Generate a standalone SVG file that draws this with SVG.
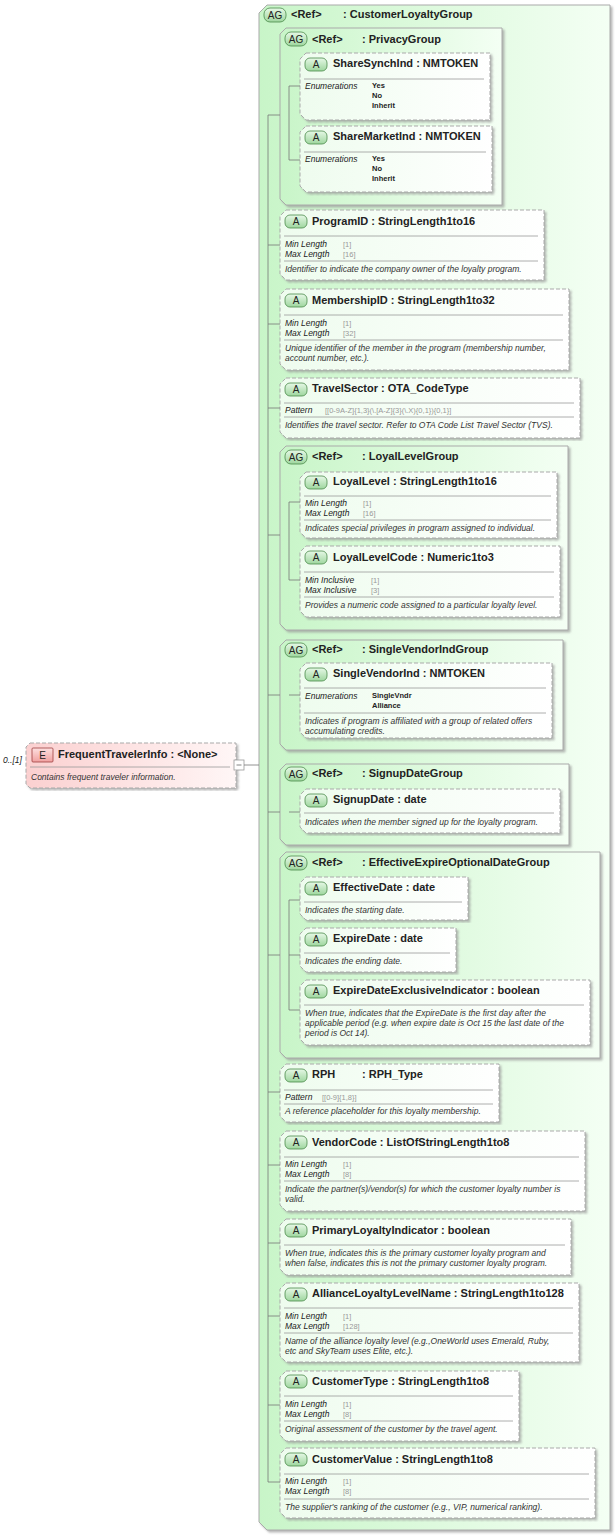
<svg xmlns="http://www.w3.org/2000/svg" width="615" height="1535" viewBox="0 0 615 1535">
<defs>
<linearGradient id="gbg" x1="0" y1="0" x2="1" y2="0"><stop offset="0" stop-color="#c8f5c8"/><stop offset="1" stop-color="#f4fff4"/></linearGradient>
<linearGradient id="gnode" x1="0" y1="0" x2="1" y2="0"><stop offset="0" stop-color="#eefcee"/><stop offset="1" stop-color="#ffffff"/></linearGradient>
<linearGradient id="gbadge" x1="0" y1="0" x2="0" y2="1"><stop offset="0" stop-color="#e6f8e6"/><stop offset="1" stop-color="#9ed69e"/></linearGradient>
<linearGradient id="gel" x1="0" y1="0" x2="1" y2="0"><stop offset="0" stop-color="#fbd0d0"/><stop offset="1" stop-color="#fff6f6"/></linearGradient>
<linearGradient id="gebadge" x1="0" y1="0" x2="0" y2="1"><stop offset="0" stop-color="#fde0e0"/><stop offset="1" stop-color="#f0a0a0"/></linearGradient>
<filter id="sh" x="-5%" y="-5%" width="110%" height="110%"><feDropShadow dx="2" dy="2" stdDeviation="0.8" flood-color="#999" flood-opacity="0.7"/></filter>
</defs>
<style>
.grp{fill:url(#gbg);stroke:#aaa;stroke-width:1;filter:url(#sh)}
.nd{fill:url(#gnode);stroke:#aaa;stroke-width:1;stroke-dasharray:4,2;filter:url(#sh)}
.el{fill:url(#gel);stroke:#aaa;stroke-width:1;stroke-dasharray:4,2;filter:url(#sh)}
.bd{fill:url(#gbadge);stroke:#4a8a4a;stroke-width:0.8}
.ebd{fill:url(#gebadge);stroke:#a04040;stroke-width:0.8}
.sep{stroke:#999;stroke-width:0.8}
.ln{stroke:#777;stroke-width:0.8;fill:none}
text{font-family:"Liberation Sans",Arial,sans-serif;fill:#222}
.t{font-size:11px;font-weight:bold}
.bt{font-size:10px;fill:#222;text-anchor:middle}
.lab{font-size:8.5px;font-style:italic}
.v{font-size:7.5px;font-weight:bold}
.fv{font-size:7.5px;fill:#999}
.d{font-size:8.5px;font-style:italic;fill:#333}
</style>

<g id="CustomerLoyaltyGroup">
<path class="grp" d="M267,5 H610 V1530 H267 L259,1522 V13 Z"/>
<rect class="bd" x="264" y="8" width="22" height="14" rx="6"/><text class="bt" x="275" y="19">AG</text>
<text class="t" x="291" y="18" font-weight="bold">&lt;Ref&gt;</text><text class="t" x="343" y="18">: CustomerLoyaltyGroup</text>
</g>

<g id="FrequentTravelerInfo">
<text class="lab" x="3" y="763">0..[1]</text>
<path class="el" d="M30,743 H236 V788 H30 L26,784 V747 Z"/>
<rect class="ebd" x="32" y="748" width="21" height="14" rx="1"/><text class="bt" x="42.5" y="759">E</text>
<text class="t" x="58" y="758">FrequentTravelerInfo : &lt;None&gt;</text>
<line class="sep" x1="30" y1="767" x2="230" y2="767"/>
<text class="d" x="31" y="780">Contains frequent traveler information.</text>
</g>

<g id="PrivacyGroup">
<path class="grp" d="M286,28 H502 V205 H286 L280,199 V34 Z"/>
<rect class="bd" x="285" y="32" width="22" height="14" rx="6"/><text class="bt" x="296" y="43">AG</text>
<text class="t" x="312" y="43">&lt;Ref&gt;</text><text class="t" x="362" y="43">: PrivacyGroup</text>
</g>
<g id="ShareSynchInd">
<path class="nd" d="M306,53 H490 V120 H306 L300,114 V59 Z"/>
<rect class="bd" x="305" y="58" width="22" height="13" rx="5"/><text class="bt" x="316" y="68">A</text>
<text class="t" x="333" y="67">ShareSynchInd : NMTOKEN</text>
<line class="sep" x1="304" y1="79" x2="484" y2="79"/>
<text class="lab" x="305" y="89">Enumerations</text>
<text class="v" x="372" y="88">Yes</text><text class="v" x="372" y="98">No</text><text class="v" x="372" y="108">Inherit</text>
</g>
<g id="ShareMarketInd">
<path class="nd" d="M306,126 H492 V192 H306 L300,186 V132 Z"/>
<rect class="bd" x="305" y="131" width="22" height="13" rx="5"/><text class="bt" x="316" y="141">A</text>
<text class="t" x="333" y="140">ShareMarketInd : NMTOKEN</text>
<line class="sep" x1="304" y1="152" x2="486" y2="152"/>
<text class="lab" x="305" y="162">Enumerations</text>
<text class="v" x="372" y="161">Yes</text><text class="v" x="372" y="171">No</text><text class="v" x="372" y="181">Inherit</text>
</g>

<g id="ProgramID">
<path class="nd" d="M286,210 H544 V280 H286 L280,274 V216 Z"/>
<rect class="bd" x="285" y="215" width="22" height="13" rx="5"/><text class="bt" x="296" y="225">A</text>
<text class="t" x="312" y="225">ProgramID : StringLength1to16</text>
<line class="sep" x1="284" y1="236" x2="538" y2="236"/>
<text class="lab" x="285" y="247">Min Length</text><text class="fv" x="343" y="247">[1]</text>
<text class="lab" x="285" y="257">Max Length</text><text class="fv" x="343" y="257">[16]</text>
<line class="sep" x1="284" y1="261" x2="538" y2="261"/>
<text class="d" x="285" y="272">Identifier to indicate the company owner of the loyalty program.</text>
</g>

<g id="MembershipID">
<path class="nd" d="M286,289 H569 V370 H286 L280,364 V295 Z"/>
<rect class="bd" x="285" y="294" width="22" height="13" rx="5"/><text class="bt" x="296" y="304">A</text>
<text class="t" x="312" y="304">MembershipID : StringLength1to32</text>
<line class="sep" x1="284" y1="315" x2="563" y2="315"/>
<text class="lab" x="285" y="326">Min Length</text><text class="fv" x="343" y="326">[1]</text>
<text class="lab" x="285" y="336">Max Length</text><text class="fv" x="343" y="336">[32]</text>
<line class="sep" x1="284" y1="340" x2="563" y2="340"/>
<text class="d" x="285" y="351">Unique identifier of the member in the program (membership number,</text>
<text class="d" x="285" y="361">account number, etc.).</text>
</g>

<g id="TravelSector">
<path class="nd" d="M286,378 H580 V438 H286 L280,432 V384 Z"/>
<rect class="bd" x="285" y="383" width="22" height="13" rx="5"/><text class="bt" x="296" y="393">A</text>
<text class="t" x="312" y="392">TravelSector : OTA_CodeType</text>
<line class="sep" x1="284" y1="403" x2="574" y2="403"/>
<text class="lab" x="285" y="413">Pattern</text><text class="fv" x="325" y="413">[[0-9A-Z]{1,3}(\.[A-Z]{3}(\.X){0,1}){0,1}]</text>
<line class="sep" x1="284" y1="417" x2="574" y2="417"/>
<text class="d" x="285" y="428">Identifies the travel sector. Refer to OTA Code List Travel Sector (TVS).</text>
</g>

<g id="LoyalLevelGroup">
<path class="grp" d="M286,446 H568 V630 H286 L280,624 V452 Z"/>
<rect class="bd" x="285" y="450" width="22" height="14" rx="6"/><text class="bt" x="296" y="461">AG</text>
<text class="t" x="312" y="460">&lt;Ref&gt;</text><text class="t" x="362" y="460">: LoyalLevelGroup</text>
</g>
<g id="LoyalLevel">
<path class="nd" d="M306,472 H557 V538 H306 L300,532 V478 Z"/>
<rect class="bd" x="305" y="476" width="22" height="13" rx="5"/><text class="bt" x="316" y="486">A</text>
<text class="t" x="333" y="485">LoyalLevel : StringLength1to16</text>
<line class="sep" x1="304" y1="496" x2="551" y2="496"/>
<text class="lab" x="305" y="506">Min Length</text><text class="fv" x="363" y="506">[1]</text>
<text class="lab" x="305" y="516">Max Length</text><text class="fv" x="363" y="516">[16]</text>
<line class="sep" x1="304" y1="520" x2="551" y2="520"/>
<text class="d" x="305" y="531">Indicates special privileges in program assigned to individual.</text>
</g>
<g id="LoyalLevelCode">
<path class="nd" d="M306,546 H560 V617 H306 L300,611 V552 Z"/>
<rect class="bd" x="305" y="551" width="22" height="13" rx="5"/><text class="bt" x="316" y="561">A</text>
<text class="t" x="333" y="561">LoyalLevelCode : Numeric1to3</text>
<line class="sep" x1="304" y1="572" x2="554" y2="572"/>
<text class="lab" x="305" y="583">Min Inclusive</text><text class="fv" x="371" y="583">[1]</text>
<text class="lab" x="305" y="593">Max Inclusive</text><text class="fv" x="371" y="593">[3]</text>
<line class="sep" x1="304" y1="597" x2="554" y2="597"/>
<text class="d" x="305" y="608">Provides a numeric code assigned to a particular loyalty level.</text>
</g>

<g id="SingleVendorIndGroup">
<path class="grp" d="M286,640 H563 V750 H286 L280,744 V646 Z"/>
<rect class="bd" x="285" y="643" width="22" height="14" rx="6"/><text class="bt" x="296" y="654">AG</text>
<text class="t" x="312" y="653">&lt;Ref&gt;</text><text class="t" x="362" y="653">: SingleVendorIndGroup</text>
</g>
<g id="SingleVendorInd">
<path class="nd" d="M306,663 H552 V738 H306 L300,732 V669 Z"/>
<rect class="bd" x="305" y="668" width="22" height="13" rx="5"/><text class="bt" x="316" y="678">A</text>
<text class="t" x="333" y="677">SingleVendorInd : NMTOKEN</text>
<line class="sep" x1="304" y1="688" x2="546" y2="688"/>
<text class="lab" x="305" y="699">Enumerations</text>
<text class="v" x="372" y="698">SingleVndr</text><text class="v" x="372" y="708">Alliance</text>
<line class="sep" x1="304" y1="713" x2="546" y2="713"/>
<text class="d" x="305" y="724">Indicates if program is affiliated with a group of related offers</text>
<text class="d" x="305" y="734">accumulating credits.</text>
</g>

<g id="SignupDateGroup">
<path class="grp" d="M286,764 H569 V845 H286 L280,839 V770 Z"/>
<rect class="bd" x="285" y="767" width="22" height="14" rx="6"/><text class="bt" x="296" y="778">AG</text>
<text class="t" x="312" y="777">&lt;Ref&gt;</text><text class="t" x="362" y="777">: SignupDateGroup</text>
</g>
<g id="SignupDate">
<path class="nd" d="M306,789 H560 V833 H306 L300,827 V795 Z"/>
<rect class="bd" x="305" y="794" width="22" height="13" rx="5"/><text class="bt" x="316" y="804">A</text>
<text class="t" x="333" y="803">SignupDate : date</text>
<line class="sep" x1="304" y1="813" x2="554" y2="813"/>
<text class="d" x="305" y="825">Indicates when the member signed up for the loyalty program.</text>
</g>

<g id="EffectiveExpireOptionalDateGroup">
<path class="grp" d="M286,852 H600 V1058 H286 L280,1052 V858 Z"/>
<rect class="bd" x="285" y="856" width="22" height="14" rx="6"/><text class="bt" x="296" y="867">AG</text>
<text class="t" x="312" y="866">&lt;Ref&gt;</text><text class="t" x="362" y="866">: EffectiveExpireOptionalDateGroup</text>
</g>
<g id="EffectiveDate">
<path class="nd" d="M306,877 H468 V920 H306 L300,914 V883 Z"/>
<rect class="bd" x="305" y="882" width="22" height="13" rx="5"/><text class="bt" x="316" y="892">A</text>
<text class="t" x="333" y="891">EffectiveDate : date</text>
<line class="sep" x1="304" y1="902" x2="462" y2="902"/>
<text class="d" x="305" y="913">Indicates the starting date.</text>
</g>
<g id="ExpireDate">
<path class="nd" d="M306,928 H456 V972 H306 L300,966 V934 Z"/>
<rect class="bd" x="305" y="933" width="22" height="13" rx="5"/><text class="bt" x="316" y="943">A</text>
<text class="t" x="333" y="942">ExpireDate : date</text>
<line class="sep" x1="304" y1="953" x2="450" y2="953"/>
<text class="d" x="305" y="964">Indicates the ending date.</text>
</g>
<g id="ExpireDateExclusiveIndicator">
<path class="nd" d="M306,980 H590 V1045 H306 L300,1039 V986 Z"/>
<rect class="bd" x="305" y="985" width="22" height="13" rx="5"/><text class="bt" x="316" y="995">A</text>
<text class="t" x="333" y="994">ExpireDateExclusiveIndicator : boolean</text>
<line class="sep" x1="304" y1="1005" x2="584" y2="1005"/>
<text class="d" x="305" y="1016">When true, indicates that the ExpireDate is the first day after the</text>
<text class="d" x="305" y="1026">applicable period (e.g. when expire date is Oct 15  the last date of the</text>
<text class="d" x="305" y="1036">period is Oct 14).</text>
</g>

<g id="RPH">
<path class="nd" d="M286,1064 H499 V1122 H286 L280,1116 V1070 Z"/>
<rect class="bd" x="285" y="1069" width="22" height="13" rx="5"/><text class="bt" x="296" y="1079">A</text>
<text class="t" x="312" y="1078">RPH</text><text class="t" x="362" y="1078">: RPH_Type</text>
<line class="sep" x1="284" y1="1090" x2="493" y2="1090"/>
<text class="lab" x="285" y="1100">Pattern</text><text class="fv" x="322" y="1100">[[0-9]{1,8}]</text>
<line class="sep" x1="284" y1="1104" x2="493" y2="1104"/>
<text class="d" x="285" y="1114">A reference placeholder for this loyalty membership.</text>
</g>

<g id="VendorCode">
<path class="nd" d="M286,1131 H585 V1211 H286 L280,1205 V1137 Z"/>
<rect class="bd" x="285" y="1136" width="22" height="13" rx="5"/><text class="bt" x="296" y="1146">A</text>
<text class="t" x="312" y="1146">VendorCode : ListOfStringLength1to8</text>
<line class="sep" x1="284" y1="1157" x2="579" y2="1157"/>
<text class="lab" x="285" y="1167">Min Length</text><text class="fv" x="343" y="1167">[1]</text>
<text class="lab" x="285" y="1177">Max Length</text><text class="fv" x="343" y="1177">[8]</text>
<line class="sep" x1="284" y1="1181" x2="579" y2="1181"/>
<text class="d" x="285" y="1192">Indicate the partner(s)/vendor(s) for which the customer loyalty number is</text>
<text class="d" x="285" y="1202">valid.</text>
</g>

<g id="PrimaryLoyaltyIndicator">
<path class="nd" d="M286,1219 H571 V1275 H286 L280,1269 V1225 Z"/>
<rect class="bd" x="285" y="1224" width="22" height="13" rx="5"/><text class="bt" x="296" y="1234">A</text>
<text class="t" x="312" y="1234">PrimaryLoyaltyIndicator : boolean</text>
<line class="sep" x1="284" y1="1245" x2="565" y2="1245"/>
<text class="d" x="285" y="1256">When true, indicates this is the primary customer loyalty program and</text>
<text class="d" x="285" y="1266">when false, indicates this is not the primary customer loyalty program.</text>
</g>

<g id="AllianceLoyaltyLevelName">
<path class="nd" d="M286,1283 H579 V1362 H286 L280,1356 V1289 Z"/>
<rect class="bd" x="285" y="1288" width="22" height="13" rx="5"/><text class="bt" x="296" y="1298">A</text>
<text class="t" x="312" y="1297">AllianceLoyaltyLevelName : StringLength1to128</text>
<line class="sep" x1="284" y1="1308" x2="573" y2="1308"/>
<text class="lab" x="285" y="1319">Min Length</text><text class="fv" x="343" y="1319">[1]</text>
<text class="lab" x="285" y="1329">Max Length</text><text class="fv" x="343" y="1329">[128]</text>
<line class="sep" x1="284" y1="1333" x2="573" y2="1333"/>
<text class="d" x="285" y="1344">Name of the alliance loyalty level (e.g.,OneWorld  uses Emerald, Ruby,</text>
<text class="d" x="285" y="1354">etc and SkyTeam uses Elite, etc.).</text>
</g>

<g id="CustomerType">
<path class="nd" d="M286,1371 H519 V1441 H286 L280,1435 V1377 Z"/>
<rect class="bd" x="285" y="1375" width="22" height="13" rx="5"/><text class="bt" x="296" y="1385">A</text>
<text class="t" x="312" y="1385">CustomerType : StringLength1to8</text>
<line class="sep" x1="284" y1="1396" x2="513" y2="1396"/>
<text class="lab" x="285" y="1407">Min Length</text><text class="fv" x="343" y="1407">[1]</text>
<text class="lab" x="285" y="1417">Max Length</text><text class="fv" x="343" y="1417">[8]</text>
<line class="sep" x1="284" y1="1421" x2="513" y2="1421"/>
<text class="d" x="285" y="1432">Original assessment of the customer by the travel agent.</text>
</g>

<g id="CustomerValue">
<path class="nd" d="M286,1448 H595 V1518 H286 L280,1512 V1454 Z"/>
<rect class="bd" x="285" y="1453" width="22" height="13" rx="5"/><text class="bt" x="296" y="1463">A</text>
<text class="t" x="312" y="1463">CustomerValue : StringLength1to8</text>
<line class="sep" x1="284" y1="1474" x2="589" y2="1474"/>
<text class="lab" x="285" y="1484">Min Length</text><text class="fv" x="343" y="1484">[1]</text>
<text class="lab" x="285" y="1494">Max Length</text><text class="fv" x="343" y="1494">[8]</text>
<line class="sep" x1="284" y1="1499" x2="589" y2="1499"/>
<text class="d" x="285" y="1510">The supplier's ranking of the customer (e.g., VIP, numerical ranking).</text>
</g>

<g id="connectors">
<rect x="234" y="760" width="10" height="10" fill="#fff" stroke="#999" stroke-width="0.8"/>
<line x1="236.5" y1="765" x2="241.5" y2="765" stroke="#666" stroke-width="0.8"/>
<path class="ln" d="M244,765 H259"/>
<path class="ln" d="M268,115 V1482 M268,115 H280 M268,245 H280 M268,324 H280 M268,408 H280 M268,535 H280 M268,695 H280 M268,812 H280 M268,955 H280 M268,1092 H280 M268,1165 H280 M268,1243 H280 M268,1316 H280 M268,1405 H280 M268,1482 H280"/>
<path class="ln" d="M289,86 V160 M289,86 H300 M289,160 H300"/>
<path class="ln" d="M289,502 V580 M289,502 H300 M289,580 H300"/>
<path class="ln" d="M289,695 H300"/>
<path class="ln" d="M289,812 H300"/>
<path class="ln" d="M289,900 V1010 M289,900 H300 M289,955 H300 M289,1010 H300"/>
</g>
</svg>
